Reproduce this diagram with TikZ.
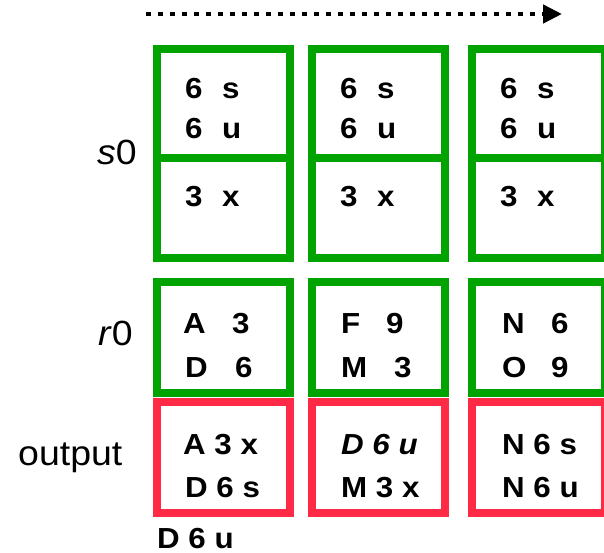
\documentclass[tikz,border=0pt]{standalone}
\usepackage{fontspec}
\usetikzlibrary{arrows.meta}
\newfontfamily\bxfont[FakeStretch=1.08]{Liberation Sans}
\newfontfamily\lbfont[FakeStretch=1.07]{Liberation Sans}
\definecolor{mygreen}{RGB}{0,163,0}
\definecolor{myred}{RGB}{255,42,70}
\tikzset{
  box/.style={draw, line width=8pt, inner sep=0pt, minimum width=133pt},
  gbox/.style={box, draw=mygreen},
  rbox/.style={box, draw=myred},
  txt/.style={anchor=base west, inner sep=0pt, font=\bxfont\bfseries\fontsize{29}{29}\selectfont},
  lab/.style={anchor=base west, inner sep=0pt, font=\lbfont\fontsize{35}{35}\selectfont},
}
\begin{document}
\begin{tikzpicture}[x=1pt,y=-1pt]
\useasboundingbox (0,0) rectangle (604,553);
% arrow
\coordinate (as) at (146,14);
\coordinate (ae) at (562,14);
\draw[line width=4.5pt, dash pattern=on 4.5pt off 7.5pt, -{Triangle[length=19pt,width=18pt]}] (as) -- (ae);
% boxes
\foreach \i/\x in {1/223.5, 2/378.5, 3/538.5} {
  \node[gbox, minimum height=109pt] (st\i) at (\x,103.5) {};
  \node[gbox, minimum height=100pt] (sb\i) at (\x,208) {};
  \node[gbox, minimum height=111pt] (r\i) at (\x,337.5) {};
  \node[rbox, minimum height=111pt] (o\i) at (\x,457.5) {};
}
% s0 texts
\foreach \i/\dx in {1/0, 2/155, 3/315} {
  \node[txt] (sa\i) at (185+\dx,99) {6};
  \node[txt] (sc\i) at (222+\dx,99) {s};
  \node[txt] (sd\i) at (185+\dx,139) {6};
  \node[txt] (se\i) at (222+\dx,139) {u};
  \node[txt] (sf\i) at (185+\dx,207) {3};
  \node[txt] (sg\i) at (222+\dx,207) {x};
}
% r0 texts
\node[txt] (ra1) at (183,333) {A};
\node[txt] (rb1) at (232,333) {3};
\node[txt] (rc1) at (185,377) {D};
\node[txt] (rd1) at (235,377) {6};
\node[txt] (ra2) at (341,333) {F};
\node[txt] (rb2) at (386,333) {9};
\node[txt] (rc2) at (341,377) {M};
\node[txt] (rd2) at (394,377) {3};
\node[txt] (ra3) at (502,333) {N};
\node[txt] (rb3) at (551,333) {6};
\node[txt] (rc3) at (502,377) {O};
\node[txt] (rd3) at (551,377) {9};
% output texts
\node[txt] (oa1) at (183,454) {A 3 x};
\node[txt] (ob1) at (185,497) {D 6 s};
\node[txt] (oa2) at (341,454) {\itshape D 6 u};
\node[txt] (ob2) at (341,497) {M 3 x};
\node[txt] (oa3) at (502,454) {N 6 s};
\node[txt] (ob3) at (502,497) {N 6 u};
\node[txt] (extra) at (157,548) {D 6 u};
% labels
\node[lab] (ls) at (97,165) {\textit{s}0};
\node[lab] (lr) at (98,345) {\textit{r}0};
\node[lab] (lo) at (18,465) {output};
\end{tikzpicture}
\end{document}
